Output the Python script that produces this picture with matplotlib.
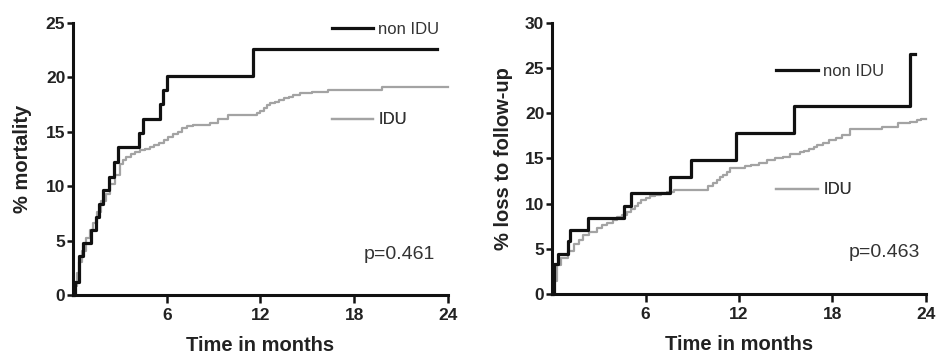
import matplotlib
matplotlib.use("Agg")
import matplotlib.pyplot as plt
from matplotlib.lines import Line2D

plt.rcParams['font.family'] = ['Liberation Sans', 'DejaVu Sans']

# ---- data: left panel (% mortality) ----
mort_nonidu_t = [0, 0.15, 0.4, 0.62, 1.15, 1.45, 1.65, 1.95, 2.3, 2.6, 2.9, 4.25, 4.5, 5.6, 5.75, 6.0, 11.5, 23.3]
mort_nonidu_v = [0, 1.2, 3.6, 4.8, 6.0, 7.2, 8.4, 9.6, 10.8, 12.2, 13.6, 14.9, 16.2, 17.5, 18.8, 20.1, 22.6, 22.6]
mort_idu_t = [0, 0.1, 0.25, 0.4, 0.6, 0.85, 1.1, 1.3, 1.55, 1.8, 2.1, 2.4, 2.7, 3.0, 3.2, 3.4, 3.7, 4.0, 4.3,
              4.6, 4.9, 5.2, 5.5, 5.8, 6.1, 6.4, 6.7, 7.0, 7.3, 7.7, 8.8, 9.3, 9.9, 11.8, 12.0, 12.2, 12.4,
              12.6, 12.9, 13.2, 13.5, 13.8, 14.1, 14.5, 15.3, 16.3, 19.8, 24]
mort_idu_v = [0, 0.8, 2.0, 3.0, 4.0, 5.2, 6.0, 6.6, 7.6, 8.6, 9.3, 10.2, 11.0, 12.0, 12.4, 12.7, 12.9, 13.1, 13.3,
              13.4, 13.6, 13.8, 14.0, 14.2, 14.5, 14.8, 15.0, 15.3, 15.5, 15.6, 15.8, 16.2, 16.5, 16.7, 16.9,
              17.2, 17.4, 17.6, 17.75, 17.9, 18.05, 18.2, 18.35, 18.5, 18.6, 18.8, 19.1, 19.1]

# ---- data: right panel (% loss to follow-up) ----
ltfu_nonidu_t = [0, 0.1, 0.4, 1.05, 1.15, 2.3, 4.6, 5.05, 7.6, 8.9, 11.8, 15.5, 23.0, 23.3]
ltfu_nonidu_v = [0, 3.3, 4.5, 5.9, 7.1, 8.4, 9.8, 11.2, 12.9, 14.8, 17.8, 20.8, 26.5, 26.5]
ltfu_idu_t = [0, 0.1, 0.3, 0.6, 1.0, 1.4, 1.7, 2.0, 2.4, 2.9, 3.2, 3.5, 3.9, 4.2, 4.5, 4.8, 5.05, 5.3, 5.5,
              5.7, 6.0, 6.3, 6.6, 7.0, 7.4, 7.8, 9.7, 10.0, 10.3, 10.6, 10.8, 11.0, 11.2, 11.4, 12.0, 12.4,
              12.8, 13.3, 13.8, 14.3, 14.8, 15.3, 15.9, 16.2, 16.5, 16.8, 17.0, 17.4, 17.8, 18.2, 18.6,
              19.1, 21.2, 22.2, 23.0, 23.4, 23.7, 24]
ltfu_idu_v = [0, 1.5, 3.2, 4.0, 4.8, 5.6, 6.0, 6.5, 6.9, 7.3, 7.6, 7.9, 8.2, 8.5, 8.8, 9.1, 9.4, 9.8, 10.1,
              10.4, 10.6, 10.8, 11.0, 11.2, 11.35, 11.5, 11.5, 12.0, 12.3, 12.6, 12.9, 13.2, 13.5, 13.9,
              14.0, 14.15, 14.3, 14.55, 14.8, 15.0, 15.2, 15.45, 15.7, 15.85, 16.0, 16.25, 16.5, 16.75,
              17.0, 17.3, 17.6, 18.3, 18.5, 18.9, 19.0, 19.2, 19.4, 19.4]

x_ticks = [6, 12, 18, 24]
left_yticks = [0, 5, 10, 15, 20, 25]
right_yticks = [0, 5, 10, 15, 20, 25, 30]
labels = ["non IDU", "IDU"]
p_left = "p=0.461"
p_right = "p=0.463"

BLACK = "#111111"
GRAY = "#a3a3a3"

fig = plt.figure(figsize=(9.38, 3.58), dpi=100)
axL = fig.add_axes([0.0778, 0.176, 0.3998, 0.7606])
axR = fig.add_axes([0.5885, 0.178, 0.3987, 0.7587])


def style(ax, yticks, ylabel, ylabel_x):
    ax.set_xlim(0, 24)
    ax.set_ylim(0, yticks[-1])
    ax.set_xticks(x_ticks)
    ax.set_yticks(yticks)
    for s in ['top', 'right']:
        ax.spines[s].set_visible(False)
    for s in ['left', 'bottom']:
        ax.spines[s].set_linewidth(2.2)
        ax.spines[s].set_color(BLACK)
    ax.tick_params(axis='x', direction='out', length=5.5, width=1.8, colors=BLACK, pad=4)
    ax.tick_params(axis='y', direction='out', length=4.5, width=1.8, colors=BLACK, pad=1)
    for lab in ax.get_xticklabels() + ax.get_yticklabels():
        lab.set_fontweight('bold')
        lab.set_fontsize(12.5)
        lab.set_color('#222222')
    ax.set_xlabel("Time in months", fontsize=14.5, fontweight='bold', color='#222222', labelpad=9)
    ax.set_ylabel(ylabel, fontsize=14.5, fontweight='bold', color='#222222')
    ax.yaxis.set_label_coords(ylabel_x, 0.5)


def add_legend(ax, color, lw, text, x, y):
    h = Line2D([], [], color=color, lw=lw)
    leg = ax.legend([h], [text], loc='center left', bbox_to_anchor=(x, y), frameon=False,
                    borderpad=0, borderaxespad=0, handlelength=2.5, handletextpad=0.3,
                    prop={'size': 12})
    for t in leg.get_texts():
        t.set_color('#333333')
    ax.add_artist(leg)


# Left panel
axL.step(mort_idu_t, mort_idu_v, where='post', color=GRAY, lw=1.6, clip_on=False)
axL.step(mort_nonidu_t, mort_nonidu_v, where='post', color=BLACK, lw=2.3, clip_on=False)
style(axL, left_yticks, "% mortality", -0.11)
add_legend(axL, BLACK, 2.3, labels[0], 0.69, 0.975)
add_legend(axL, GRAY, 1.6, labels[1], 0.69, 0.643)
axL.text(0.965, 0.147, p_left, transform=axL.transAxes, ha='right', va='center',
         fontsize=14, color='#333333')

# Right panel
axR.step(ltfu_idu_t, ltfu_idu_v, where='post', color=GRAY, lw=1.6, clip_on=False)
axR.step(ltfu_nonidu_t, ltfu_nonidu_v, where='post', color=BLACK, lw=2.3, clip_on=False)
style(axR, right_yticks, "% loss to follow-up", -0.104)
add_legend(axR, BLACK, 2.3, labels[0], 0.60, 0.822)
add_legend(axR, GRAY, 1.6, labels[1], 0.60, 0.384)
axR.text(0.984, 0.152, p_right, transform=axR.transAxes, ha='right', va='center',
         fontsize=14, color='#333333')

fig.savefig("out.png", dpi=100, facecolor='white')
